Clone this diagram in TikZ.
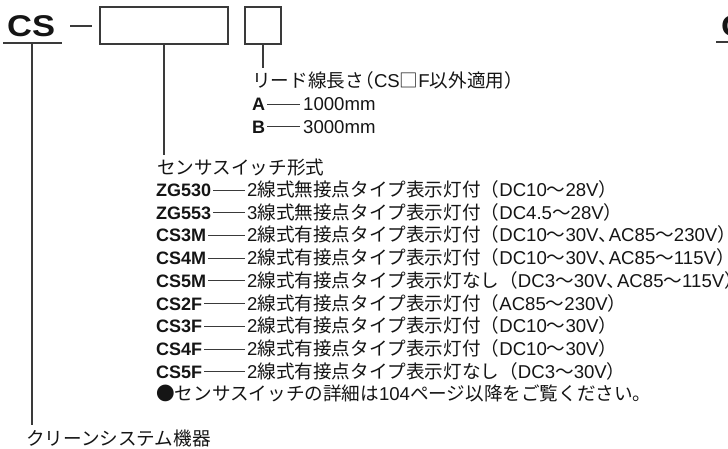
\documentclass[tikz,border=0pt]{standalone}
\usepackage{fontspec}
\setmainfont{Liberation Sans}
\newfontfamily\jpf{Noto Sans CJK JP}
\newfontfamily\csf[FakeStretch=1.15]{Liberation Sans}
\newcommand\jp[1]{{\jpf #1}}
\definecolor{ink}{HTML}{151515}
\definecolor{lin}{HTML}{3A3A3A}
\tikzset{
  lbl/.style={font=\fontsize{18}{20}\selectfont\bfseries, anchor=base west, inner sep=0pt, text=ink},
  desc/.style={font=\fontsize{18.6}{20}\selectfont, anchor=base west, inner sep=0pt, text=ink},
  conn/.style={draw=lin, line width=1.2pt},
  dashc/.style={draw=lin, line width=0.9pt},
  slot/.style={draw=lin, line width=1.4pt},
}
\begin{document}
\begin{tikzpicture}[x=1pt,y=-1pt]
\clip (0,0) rectangle (728,448);
\fill[white] (0,0) rectangle (728,448);
% title part
\node[anchor=base west, inner sep=0pt, text=ink, font=\fontsize{30}{31}\selectfont\csf\bfseries] (cs) at (7,36.3) {CS};
\coordinate (ulL) at (3,43);
\coordinate (ulR) at (62,43);
\draw[conn] (ulL) -- (ulR);
\coordinate (hy1) at (70,26);
\coordinate (hy2) at (92,26);
\draw[conn] (hy1) -- (hy2);
\node[slot, minimum width=128pt, minimum height=37pt, inner sep=0pt] (box1) at (164,25.5) {};
\node[slot, minimum width=36pt, minimum height=37pt, inner sep=0pt] (box2) at (263,25.5) {};
% partial next diagram at right edge
\node[anchor=base west, inner sep=0pt, text=ink, font=\fontsize{30}{31}\selectfont\csf\bfseries] (cs2) at (721,36.3) {C};
\coordinate (ul2L) at (716,42);
\coordinate (ul2R) at (740,42);
\draw[conn] (ul2L) -- (ul2R);
% lead wire length
\coordinate (b2end) at (263,68);
\draw[conn] (box2.south) -- (b2end);
\node[desc] (lead) at (252,87.5) {\jp{リード線長さ\kern-0.45em（}CS\jp{□}F\jp{以外適用）}};
\node[lbl] (la) at (252,110.5) {A};
\node[desc] (da) at (303,110.5) {1000mm};
\draw[dashc] ([xshift=2pt,yshift=6.4pt]la.base east) -- ([xshift=-3pt,yshift=6.4pt]da.base west);
\node[lbl] (lb) at (252,133) {B};
\node[desc] (db) at (303,133) {3000mm};
\draw[dashc] ([xshift=2pt,yshift=6.4pt]lb.base east) -- ([xshift=-3pt,yshift=6.4pt]db.base west);
% sensor switch type
\coordinate (b1end) at (164,155);
\draw[conn] (box1.south) -- (b1end);
\node[desc] (hdr) at (157,174) {\jp{センサスイッチ形式}};
\node[lbl] (l1) at (156,196.5) {ZG530};
\node[desc] (d1) at (247,196.5) {2\jp{線式無接点タイプ表示灯付（}DC10\jp{～}28V\jp{）}};
\node[lbl] (l2) at (156,219.2) {ZG553};
\node[desc] (d2) at (247,219.2) {3\jp{線式無接点タイプ表示灯付（}DC4.5\jp{～}28V\jp{）}};
\node[lbl] (l3) at (156,241.9) {CS3M};
\node[desc] (d3) at (247,241.9) {2\jp{線式有接点タイプ表示灯付（}DC10\jp{～}30V\jp{、}\kern-0.45em AC85\jp{～}230V\jp{）}};
\node[lbl] (l4) at (156,264.6) {CS4M};
\node[desc] (d4) at (247,264.6) {2\jp{線式有接点タイプ表示灯付（}DC10\jp{～}30V\jp{、}\kern-0.45em AC85\jp{～}115V\jp{）}};
\node[lbl] (l5) at (156,287.3) {CS5M};
\node[desc] (d5) at (247,287.3) {2\jp{線式有接点タイプ表示灯なし（}DC3\jp{～}30V\jp{、}\kern-0.45em AC85\jp{～}115V\jp{）}};
\node[lbl] (l6) at (156,310) {CS2F};
\node[desc] (d6) at (247,310) {2\jp{線式有接点タイプ表示灯付（}AC85\jp{～}230V\jp{）}};
\node[lbl] (l7) at (156,332.7) {CS3F};
\node[desc] (d7) at (247,332.7) {2\jp{線式有接点タイプ表示灯付（}DC10\jp{～}30V\jp{）}};
\node[lbl] (l8) at (156,355.4) {CS4F};
\node[desc] (d8) at (247,355.4) {2\jp{線式有接点タイプ表示灯付（}DC10\jp{～}30V\jp{）}};
\node[lbl] (l9) at (156,378.1) {CS5F};
\node[desc] (d9) at (247,378.1) {2\jp{線式有接点タイプ表示灯なし（}DC3\jp{～}30V\jp{）}};
\foreach \i in {1,...,9}{
  \draw[dashc] ([xshift=2pt,yshift=6.4pt]l\i.base east) -- ([xshift=-2pt,yshift=6.4pt]d\i.base west);
}
\node[desc] (note) at (156,400.8) {\jp{●センサスイッチの詳細は}104\jp{ページ以降をご覧ください。}};
% clean system
\coordinate (csTop) at (32,43);
\coordinate (csend) at (32,425);
\draw[conn] (csTop) -- (csend);
\node[desc] (clean) at (26,445) {\jp{クリーンシステム機器}};
\end{tikzpicture}
\end{document}
